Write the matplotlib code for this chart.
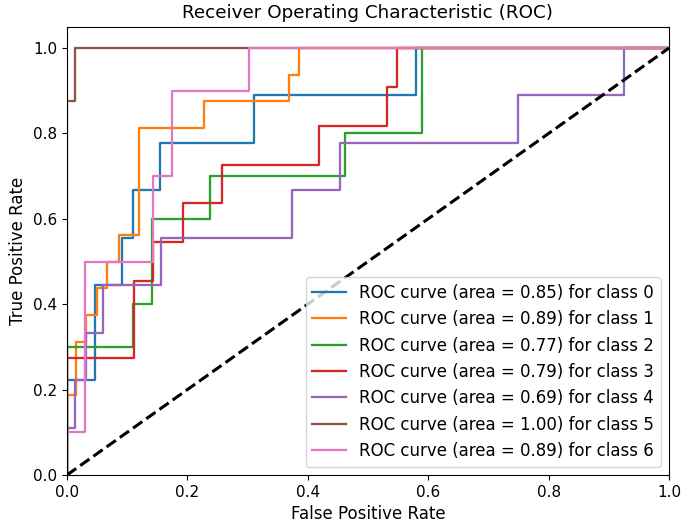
import matplotlib
matplotlib.use("Agg")
import matplotlib.pyplot as plt

# ROC corner points (fpr, tpr) per class
fpr_0 = [0.0, 0.0, 0.047, 0.047, 0.0914, 0.0914, 0.109, 0.109, 0.155, 0.155, 0.311, 0.311, 0.579, 0.579, 1.0]
tpr_0 = [0.0, 0.222, 0.222, 0.444, 0.444, 0.556, 0.556, 0.667, 0.667, 0.778, 0.778, 0.889, 0.889, 1.0, 1.0]

fpr_1 = [0.0, 0.0, 0.0155, 0.0155, 0.0316, 0.0316, 0.050, 0.050, 0.0665, 0.0665, 0.087,
         0.087, 0.120, 0.120, 0.228, 0.228, 0.368, 0.368, 0.386, 0.386, 1.0]
tpr_1 = [0.0, 0.1875, 0.1875, 0.3125, 0.3125, 0.375, 0.375, 0.4375, 0.4375, 0.5, 0.5,
         0.5625, 0.5625, 0.8125, 0.8125, 0.875, 0.875, 0.9375, 0.9375, 1.0, 1.0]

fpr_2 = [0.0, 0.0, 0.109, 0.109, 0.141, 0.141, 0.237, 0.237, 0.461, 0.461, 0.589, 0.589, 1.0]
tpr_2 = [0.0, 0.3, 0.3, 0.4, 0.4, 0.6, 0.6, 0.7, 0.7, 0.8, 0.8, 1.0, 1.0]

fpr_3 = [0.0, 0.0, 0.111, 0.111, 0.1435, 0.1435, 0.192, 0.192, 0.257, 0.257, 0.419, 0.419,
         0.5315, 0.5315, 0.548, 0.548, 1.0]
tpr_3 = [0.0, 0.273, 0.273, 0.4545, 0.4545, 0.5455, 0.5455, 0.636, 0.636, 0.727, 0.727,
         0.818, 0.818, 0.909, 0.909, 1.0, 1.0]

fpr_4 = [0.0, 0.0, 0.0138, 0.0138, 0.0316, 0.0316, 0.060, 0.060, 0.1557, 0.1557, 0.373, 0.373,
         0.454, 0.454, 0.750, 0.750, 0.926, 0.926, 1.0]
tpr_4 = [0.0, 0.111, 0.111, 0.222, 0.222, 0.333, 0.333, 0.444, 0.444, 0.556, 0.556, 0.667,
         0.667, 0.778, 0.778, 0.889, 0.889, 1.0, 1.0]

fpr_5 = [0.0, 0.0, 0.0138, 0.0138, 1.0]
tpr_5 = [0.0, 0.875, 0.875, 1.0, 1.0]

fpr_6 = [0.0, 0.0, 0.0304, 0.0304, 0.1425, 0.1425, 0.174, 0.174, 0.3017, 0.3017, 1.0]
tpr_6 = [0.0, 0.1, 0.1, 0.5, 0.5, 0.7, 0.7, 0.9, 0.9, 1.0, 1.0]

fprs = [fpr_0, fpr_1, fpr_2, fpr_3, fpr_4, fpr_5, fpr_6]
tprs = [tpr_0, tpr_1, tpr_2, tpr_3, tpr_4, tpr_5, tpr_6]
aucs = [0.85, 0.89, 0.77, 0.79, 0.69, 1.00, 0.89]

fig = plt.figure(figsize=(6.85, 5.26), dpi=100)
ax = fig.add_axes([0.0978, 0.097, 0.8788, 0.8522])

for i in range(len(fprs)):
    ax.plot(fprs[i], tprs[i], lw=1.65,
            label='ROC curve (area = %0.2f) for class %d' % (aucs[i], i))

ax.plot([0, 1], [0, 1], 'k--', lw=2.2)
ax.set_xlim([0.0, 1.0])
ax.set_ylim([0.0, 1.05])
ax.tick_params(labelsize=11)
ax.set_xlabel('False Positive Rate', fontsize=12)
ax.set_ylabel('True Positive Rate', fontsize=12)
ax.set_title('Receiver Operating Characteristic (ROC)', fontsize=13.2)
ax.legend(loc="lower right", fontsize=12)

fig.savefig('out.png', dpi=100)
